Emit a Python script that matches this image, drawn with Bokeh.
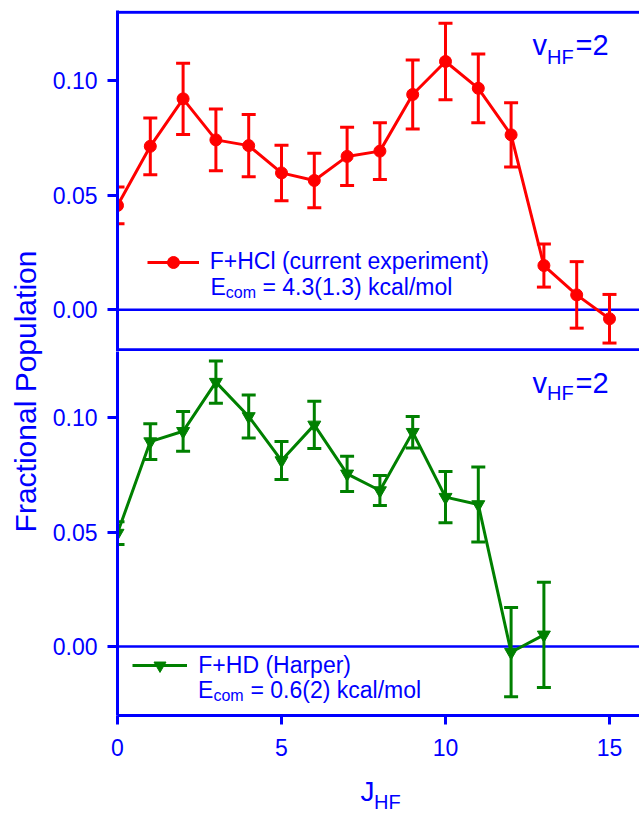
import math
from bokeh.plotting import figure
from bokeh.models import (Range1d, FixedTicker, PrintfTickFormatter, Span, Whisker, TeeHead,
                          ColumnDataSource, Legend, LegendItem, Label)
from bokeh.core.properties import value
from bokeh.layouts import row, column
from bokeh.embed import file_html
from bokeh.resources import INLINE

# ---------------- data ----------------
J_HCL = list(range(16))
POP_HCL = [0.0455, 0.0713, 0.0920, 0.0741, 0.0716, 0.0597, 0.0564, 0.0669,
           0.0692, 0.0939, 0.1083, 0.0966, 0.0763, 0.0193, 0.0065, -0.0039]
ERR_HCL = [0.0080, 0.0124, 0.0155, 0.0135, 0.0136, 0.0121, 0.0119, 0.0127,
           0.0124, 0.0150, 0.0167, 0.0150, 0.0140, 0.0094, 0.0145, 0.0106]

J_HD = list(range(14))
POP_HD = [0.0496, 0.0896, 0.0941, 0.1156, 0.1006, 0.0813, 0.0969, 0.0755,
          0.0682, 0.0937, 0.0653, 0.0621, -0.0025, 0.0051]
ERR_HD = [0.0050, 0.0078, 0.0087, 0.0092, 0.0094, 0.0083, 0.0103, 0.0077,
          0.0066, 0.0069, 0.0112, 0.0164, 0.0195, 0.0230]

Y_TICKS = [0.0, 0.05, 0.10]
X_TICKS = [0, 5, 10, 15]

LABEL_HCL = "F+HCl (current experiment)"
ECOM_HCL = "= 4.3(1.3) kcal/mol"
LABEL_HD = "F+HD (Harper)"
ECOM_HD = "= 0.6(2) kcal/mol"
Y_TITLE = "Fractional Population"
X_TITLE = "J"
X_TITLE_SUB = "HF"
PANEL_TAG = "v"
PANEL_TAG_SUB = "HF"
PANEL_TAG_TAIL = "=2"
ECOM_E = "E"
ECOM_SUB = "com"

# ---------------- style / layout ----------------
BLUE = "#0000FF"
RED = "#FF0000"
GREEN = "#008000"
FONT = "Liberation Sans"
TXT = "23px"

W, H = 639, 813
LW = 45            # width of the strip holding the y title
FL = 117           # page x of the frame's left edge
XPX = 32.8         # px per J unit
TOP_T = 10         # page y of the top frame edge
SPLIT = 351        # page y where the two panels meet
BOT_B = 715        # page y of the bottom frame edge
XT_TOP = 765       # page y where the x-title strip begins
Z1, S1 = 309.3, 2293.0   # top panel: page y of zero, px per unit
Z2, S2 = 646.0, 2287.0   # bottom panel
DY = 9             # baseline correction for labels (px)


def xd(px):
    return (px - FL) / XPX


def y1(py):
    return (Z1 - py + DY) / S1


def y2(py):
    return (Z2 - py + DY) / S2


x_range = Range1d(0, xd(W))


def base_fig(width, height, y_range, **kw):
    p = figure(width=width, height=height, x_range=x_range, y_range=y_range,
               toolbar_location=None, output_backend="svg",
               outline_line_color=None, background_fill_color="white",
               border_fill_color="white", min_border_left=FL - LW,
               min_border_right=0, **kw)
    p.grid.visible = False
    return p


def style_axis(ax, ticks, tick_out, standoff):
    ax.ticker = FixedTicker(ticks=ticks)
    ax.axis_line_color = BLUE
    ax.axis_line_width = 3
    ax.major_tick_line_color = BLUE
    ax.major_tick_line_width = 3
    ax.major_tick_out = tick_out
    ax.major_tick_in = 0
    ax.minor_tick_line_color = None
    ax.major_label_text_color = BLUE
    ax.major_label_text_font = FONT
    ax.major_label_text_font_size = TXT
    ax.major_label_standoff = standoff


def add_text(p, x, y, text, size, **kw):
    p.add_layout(Label(x=x, y=y, text=text, text_font=FONT, text_font_size=size,
                       text_color=BLUE, text_align="left", text_baseline="alphabetic", **kw))


def add_series(p, J, pop, err, color, marker, size):
    src = ColumnDataSource(dict(x=J, y=pop,
                                upper=[a + b for a, b in zip(pop, err)],
                                lower=[a - b for a, b in zip(pop, err)]))
    w = Whisker(source=src, base="x", upper="upper", lower="lower",
                line_color=color, line_width=3,
                upper_head=TeeHead(size=14, line_color=color, line_width=3),
                lower_head=TeeHead(size=14, line_color=color, line_width=3))
    p.add_layout(w)
    rl = p.line("x", "y", source=src, line_color=color, line_width=3)
    rs = p.scatter("x", "y", source=src, marker=marker, size=size,
                   fill_color=color, line_color=color)
    return rl, rs


# ---------------- top panel ----------------
p1 = base_fig(W - LW, SPLIT, Range1d((Z1 - SPLIT) / S1, (Z1 - TOP_T) / S1),
              min_border_top=TOP_T, min_border_bottom=0,
              x_axis_location=None, y_axis_location="left")
style_axis(p1.yaxis[0], Y_TICKS, 10, 10)
p1.yaxis[0].formatter = PrintfTickFormatter(format="%.2f")

for loc, lw in [((Z1 - 11.7) / S1, 3), (0.0, 2.5), ((Z1 - 349.3) / S1, 3)]:
    p1.add_layout(Span(location=loc, dimension="width", line_color=BLUE,
                       line_width=lw, level="underlay"))

l1, s1 = add_series(p1, J_HCL, POP_HCL, ERR_HCL, RED, "circle", 12)

leg1 = Legend(items=[LegendItem(label=value(LABEL_HCL), renderers=[l1, s1])],
              location=(146.7 - FL, SPLIT - 276.7), glyph_width=52, glyph_height=30,
              label_standoff=11, padding=0, margin=0, spacing=0,
              border_line_color=None, background_fill_alpha=0,
              label_text_font=FONT, label_text_font_size=TXT, label_text_color=BLUE)
p1.add_layout(leg1)

add_text(p1, xd(210.0), y1(295), ECOM_E, TXT)
add_text(p1, xd(225.3), y1(301), ECOM_SUB, "16px")
add_text(p1, xd(262.0), y1(295), ECOM_HCL, TXT)

add_text(p1, xd(532.0), y1(53.3), PANEL_TAG, "29px")
add_text(p1, xd(546.5), y1(65), PANEL_TAG_SUB, "20px")
add_text(p1, xd(575.0), y1(53.3), PANEL_TAG_TAIL, "29px")

# ---------------- bottom panel ----------------
p2 = base_fig(W - LW, XT_TOP - SPLIT, Range1d((Z2 - BOT_B) / S2, (Z2 - SPLIT) / S2),
              min_border_top=0, min_border_bottom=XT_TOP - BOT_B,
              x_axis_location="below", y_axis_location="left")
style_axis(p2.yaxis[0], Y_TICKS, 10, 10)
p2.yaxis[0].formatter = PrintfTickFormatter(format="%.2f")
style_axis(p2.xaxis[0], X_TICKS, 9, 14)

p2.add_layout(Span(location=0.0, dimension="width", line_color=BLUE,
                   line_width=2.5, level="underlay"))

l2, s2 = add_series(p2, J_HD, POP_HD, ERR_HD, GREEN, "inverted_triangle", 13)

leg2 = Legend(items=[LegendItem(label=value(LABEL_HD), renderers=[l2, s2])],
              location=(132.3 - FL, BOT_B - 680), glyph_width=55, glyph_height=30,
              label_standoff=11, padding=0, margin=0, spacing=0,
              border_line_color=None, background_fill_alpha=0,
              label_text_font=FONT, label_text_font_size=TXT, label_text_color=BLUE)
p2.add_layout(leg2)

add_text(p2, xd(197.6), y2(698), ECOM_E, TXT)
add_text(p2, xd(212.9), y2(704), ECOM_SUB, "16px")
add_text(p2, xd(250.0), y2(698), ECOM_HD, TXT)

add_text(p2, xd(532.0), y2(391.7), PANEL_TAG, "29px")
add_text(p2, xd(546.5), y2(401.7), PANEL_TAG_SUB, "20px")
add_text(p2, xd(575.0), y2(391.7), PANEL_TAG_TAIL, "29px")

# ---------------- x title strip ----------------
p3 = base_fig(W - LW, H - XT_TOP, Range1d(0, H - XT_TOP),
              min_border_top=0, min_border_bottom=0,
              x_axis_location=None, y_axis_location=None)
add_text(p3, xd(359.9), H - 800 + DY, X_TITLE, "28px")
add_text(p3, xd(373.5), H - 810 + DY, X_TITLE_SUB, "20px")

# ---------------- y title strip ----------------
pt = figure(width=LW, height=H, x_range=Range1d(0, LW), y_range=Range1d(0, H),
            toolbar_location=None, output_backend="svg", outline_line_color=None,
            x_axis_location=None, y_axis_location=None,
            min_border_left=0, min_border_right=0, min_border_top=0, min_border_bottom=0,
            background_fill_color="white", border_fill_color="white")
pt.grid.visible = False
pt.add_layout(Label(x=34 - DY, y=H - 391, text=Y_TITLE, angle=math.pi / 2,
                    text_font=FONT, text_font_size="30px", text_color=BLUE,
                    text_align="center", text_baseline="alphabetic"))

layout = row(pt, column(p1, p2, p3))

with open("out.html", "w") as f:
    f.write(file_html(layout, INLINE))
